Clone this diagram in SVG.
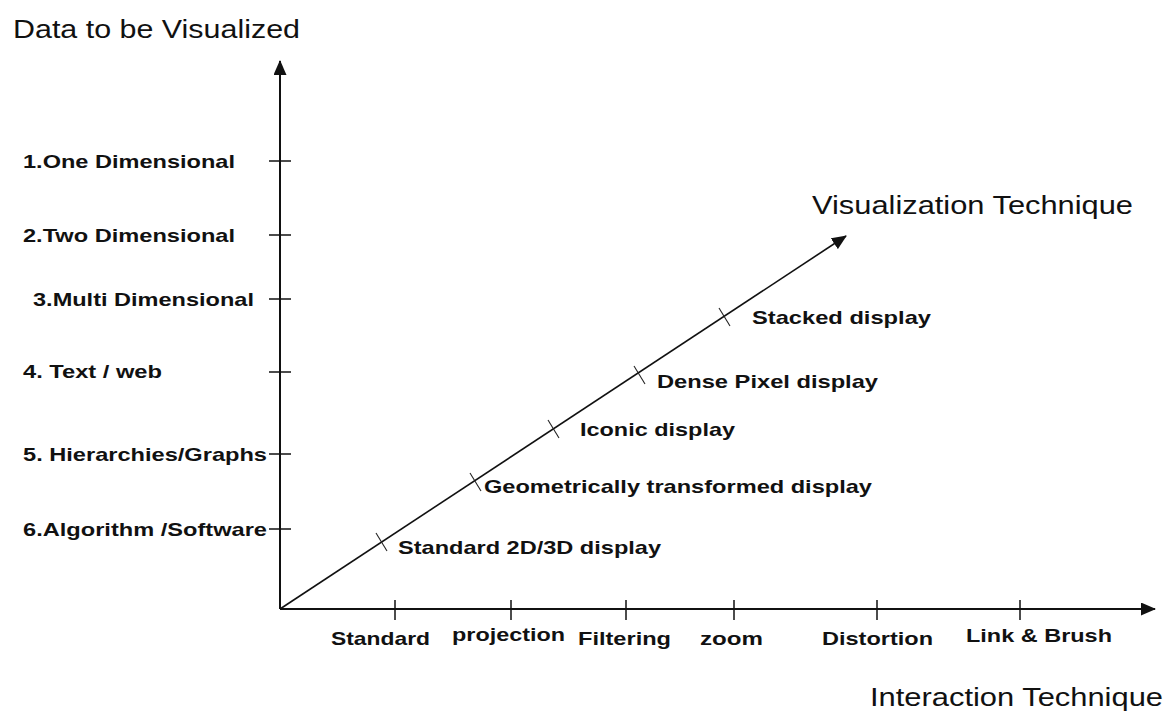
<svg xmlns="http://www.w3.org/2000/svg" width="1168" height="713" viewBox="0 0 1168 713">
<style>
.title{font-family:"Liberation Sans",Arial,sans-serif;font-size:25px;fill:#111}
.lbl{font-family:"Liberation Sans",Arial,sans-serif;font-size:19px;font-weight:bold;fill:#111}
.axis{stroke:#111;stroke-width:2;fill:none}
.tick{stroke:#111;stroke-width:1.5;fill:none}
.dtick{stroke:#222;stroke-width:1.1;fill:none}
</style>
<defs>
<marker id="arr" markerWidth="15" markerHeight="13" refX="14" refY="6.5" orient="auto" markerUnits="userSpaceOnUse" viewBox="0 0 15 13">
<path d="M0,0 L15,6.5 L0,13 z" fill="#111"/>
</marker>
</defs>
<rect width="1168" height="713" fill="#fff"/>
<g id="connectors">
<line class="axis" x1="280" y1="609" x2="280" y2="61" marker-end="url(#arr)"/>
<line class="axis" x1="280" y1="609" x2="1155" y2="609" marker-end="url(#arr)"/>
<line class="axis" x1="280" y1="609" x2="846" y2="236" marker-end="url(#arr)" style="stroke-width:1.6"/>
</g>
<g id="y-ticks">
<line class="tick" x1="269" y1="161" x2="291" y2="161"/>
<line class="tick" x1="269" y1="235" x2="291" y2="235"/>
<line class="tick" x1="269" y1="299" x2="291" y2="299"/>
<line class="tick" x1="269" y1="372" x2="291" y2="372"/>
<line class="tick" x1="269" y1="454" x2="291" y2="454"/>
<line class="tick" x1="269" y1="529" x2="291" y2="529"/>
</g>
<g id="x-ticks">
<line class="tick" x1="395" y1="600" x2="395" y2="620"/>
<line class="tick" x1="511" y1="600" x2="511" y2="620"/>
<line class="tick" x1="626" y1="600" x2="626" y2="620"/>
<line class="tick" x1="734" y1="600" x2="734" y2="620"/>
<line class="tick" x1="877" y1="600" x2="877" y2="620"/>
<line class="tick" x1="1020" y1="600" x2="1020" y2="620"/>
</g>
<g id="diag-ticks">
<line class="dtick" x1="376" y1="533" x2="387" y2="551"/>
<line class="dtick" x1="470" y1="473" x2="481" y2="491"/>
<line class="dtick" x1="548" y1="420" x2="559" y2="438"/>
<line class="dtick" x1="634" y1="366" x2="645" y2="384"/>
<line class="dtick" x1="719" y1="308" x2="730" y2="326"/>
</g>
<g id="title-data"><text class="title" x="13" y="38" textLength="287" lengthAdjust="spacingAndGlyphs">Data to be Visualized</text></g>
<g id="title-vis"><text class="title" x="812" y="214" textLength="321" lengthAdjust="spacingAndGlyphs">Visualization Technique</text></g>
<g id="title-int"><text class="title" x="870" y="706" textLength="293" lengthAdjust="spacingAndGlyphs">Interaction Technique</text></g>
<g id="y1"><text class="lbl" x="23" y="168" textLength="212" lengthAdjust="spacingAndGlyphs">1.One Dimensional</text></g>
<g id="y2"><text class="lbl" x="23" y="242" textLength="212" lengthAdjust="spacingAndGlyphs">2.Two Dimensional</text></g>
<g id="y3"><text class="lbl" x="33" y="306" textLength="221" lengthAdjust="spacingAndGlyphs">3.Multi Dimensional</text></g>
<g id="y4"><text class="lbl" x="23" y="378" textLength="139" lengthAdjust="spacingAndGlyphs">4. Text / web</text></g>
<g id="y5"><text class="lbl" x="23" y="461" textLength="244" lengthAdjust="spacingAndGlyphs">5. Hierarchies/Graphs</text></g>
<g id="y6"><text class="lbl" x="23" y="536" textLength="244" lengthAdjust="spacingAndGlyphs">6.Algorithm /Software</text></g>
<g id="v1"><text class="lbl" x="398" y="554" textLength="263" lengthAdjust="spacingAndGlyphs">Standard 2D/3D display</text></g>
<g id="v2"><text class="lbl" x="484" y="493" textLength="388" lengthAdjust="spacingAndGlyphs">Geometrically transformed display</text></g>
<g id="v3"><text class="lbl" x="580" y="436" textLength="155" lengthAdjust="spacingAndGlyphs">Iconic display</text></g>
<g id="v4"><text class="lbl" x="657" y="388" textLength="221" lengthAdjust="spacingAndGlyphs">Dense Pixel display</text></g>
<g id="v5"><text class="lbl" x="752" y="324" textLength="179" lengthAdjust="spacingAndGlyphs">Stacked display</text></g>
<g id="x1"><text class="lbl" x="331" y="645" textLength="99" lengthAdjust="spacingAndGlyphs">Standard</text></g>
<g id="x2"><text class="lbl" x="452" y="641" textLength="113" lengthAdjust="spacingAndGlyphs">projection</text></g>
<g id="x3"><text class="lbl" x="578" y="645" textLength="93" lengthAdjust="spacingAndGlyphs">Filtering</text></g>
<g id="x4"><text class="lbl" x="700" y="645" textLength="63" lengthAdjust="spacingAndGlyphs">zoom</text></g>
<g id="x5"><text class="lbl" x="822" y="645" textLength="111" lengthAdjust="spacingAndGlyphs">Distortion</text></g>
<g id="x6"><text class="lbl" x="966" y="642" textLength="146" lengthAdjust="spacingAndGlyphs">Link &amp; Brush</text></g>
</svg>
